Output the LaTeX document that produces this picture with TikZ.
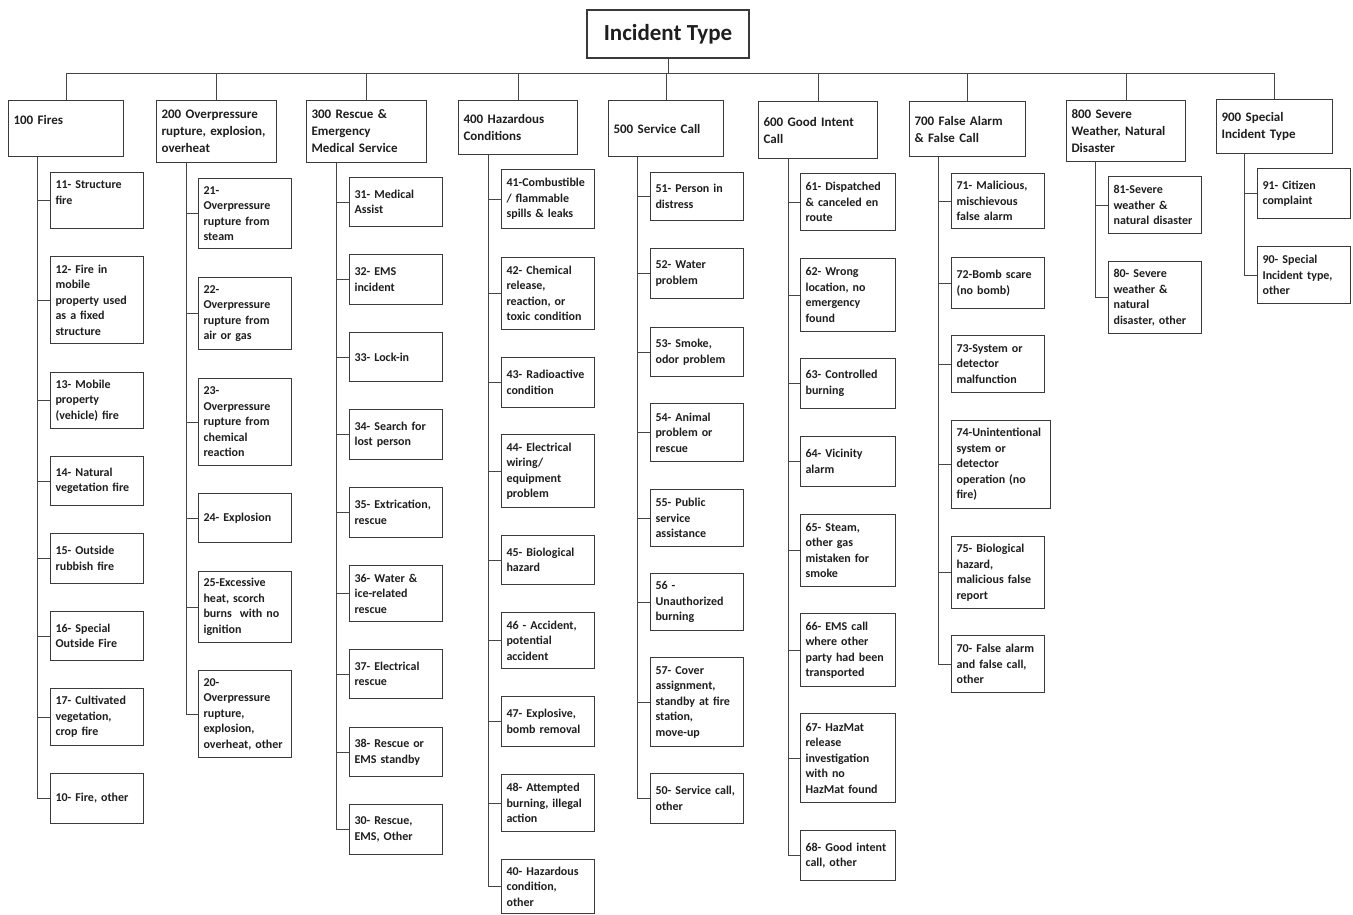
\documentclass[tikz,border=0pt]{standalone}
\usepackage{fontspec}
\setmainfont{Carlito}

\definecolor{boxc}{HTML}{3A3A3A}
\definecolor{linec}{HTML}{454545}
\definecolor{txt}{HTML}{1E1E1E}
\newcommand\kidfont{\fontsize{12}{15.5}\selectfont\bfseries}
\newcommand\catfont{\fontsize{13}{17}\selectfont\bfseries}

\tikzset{
 typebox/.style={draw=boxc, line width=1.2pt, text=txt, minimum width=162, minimum height=48,
  font=\fontsize{23}{28}\selectfont\bfseries},
 catbox/.style={draw=boxc, line width=1.1pt, text=txt, anchor=north west, align=left,
  inner xsep=5pt, inner ysep=2pt, font=\catfont},
 codebox/.style={draw=boxc, line width=1.1pt, text=txt, anchor=north west, align=left,
  inner xsep=5pt, inner ysep=2pt, text width=83pt, font=\kidfont},
 link/.style={draw=linec, line width=1pt}
}

\begin{document}
\begin{tikzpicture}[x=1pt,y=-1pt]
 \useasboundingbox (0,0) rectangle (1353,915);
 % top
 \node[typebox] (root) at (668,34) {Incident Type};
 \coordinate (bus) at (0,74);
 % categories
 \node[catbox, text width=105, minimum height=56] (g100) at (8,100) {100 Fires\\ \mbox{}};
 \node[catbox, text width=110, minimum height=62] (g200) at (156,100) {200 Overpressure\\rupture, explosion,\\overheat};
 \node[catbox, text width=110, minimum height=62] (g300) at (306,100) {300 Rescue \&\\Emergency\\Medical Service};
 \node[catbox, text width=109, minimum height=54] (g400) at (458,100) {400 Hazardous\\Conditions};
 \node[catbox, text width=105, minimum height=56] (g500) at (608,100) {500 Service Call};
 \node[catbox, text width=109, minimum height=57] (g600) at (758,101) {600 Good Intent\\Call};
 \node[catbox, text width=106, minimum height=55] (g700) at (909,101) {700 False Alarm\\\& False Call};
 \node[catbox, text width=109, minimum height=61] (g800) at (1066,100) {800 Severe\\Weather, Natural\\Disaster};
 \node[catbox, text width=106, minimum height=54] (g900) at (1216,99) {900 Special\\Incident Type};
 % 100
 \node[codebox, minimum height=56] (k11) at (50,172) {11- Structure\\fire\\ \mbox{}};
 \node[codebox, minimum height=87] (k12) at (50,256) {12- Fire in\\mobile\\property used\\as a fixed\\structure};
 \node[codebox, minimum height=56] (k13) at (50,372) {13- Mobile\\property\\(vehicle) fire};
 \node[codebox, minimum height=49] (k14) at (50,456) {14- Natural\\vegetation fire};
 \node[codebox, minimum height=50] (k15) at (50,533) {15- Outside\\rubbish fire};
 \node[codebox, minimum height=49] (k16) at (50,611) {16- Special\\Outside Fire};
 \node[codebox, minimum height=57] (k17) at (50,688) {17- Cultivated\\vegetation,\\crop fire};
 \node[codebox, minimum height=50] (k10) at (50,773) {10- Fire, other};
 % 200
 \node[codebox, minimum height=70] (k21) at (198,178) {21-\\Overpressure\\rupture from\\steam};
 \node[codebox, minimum height=72] (k22) at (198,277) {22-\\Overpressure\\rupture from\\air or gas};
 \node[codebox, minimum height=87] (k23) at (198,378) {23-\\Overpressure\\rupture from\\chemical\\reaction};
 \node[codebox, minimum height=49] (k24) at (198,493) {24- Explosion};
 \node[codebox, minimum height=71] (k25) at (198,571) {25-Excessive\\heat, scorch\\burns \ with no\\ignition};
 \node[codebox, minimum height=87] (k20) at (198,670) {20-\\Overpressure\\rupture,\\explosion,\\overheat, other};
 % 300
 \node[codebox, minimum height=49] (k31) at (349,177) {31- Medical\\Assist};
 \node[codebox, minimum height=50] (k32) at (349,254) {32- EMS\\incident};
 \node[codebox, minimum height=49] (k33) at (349,332) {33- Lock-in};
 \node[codebox, minimum height=50] (k34) at (349,409) {34- Search for\\lost person};
 \node[codebox, minimum height=50] (k35) at (349,487) {35- Extrication,\\rescue};
 \node[codebox, minimum height=56] (k36) at (349,565) {36- Water \&\\ice-related\\rescue};
 \node[codebox, minimum height=49] (k37) at (349,649) {37- Electrical\\rescue};
 \node[codebox, minimum height=49] (k38) at (349,727) {38- Rescue or\\EMS standby};
 \node[codebox, minimum height=50] (k30) at (349,804) {30- Rescue,\\EMS, Other};
 % 400
 \node[codebox, minimum height=59] (k41) at (501,169) {41-Combustible\\/ flammable\\spills \& leaks};
 \node[codebox, minimum height=72] (k42) at (501,257) {42- Chemical\\release,\\reaction, or\\toxic condition};
 \node[codebox, minimum height=50] (k43) at (501,357) {43- Radioactive\\condition};
 \node[codebox, minimum height=73] (k44) at (501,434) {44- Electrical\\wiring/\\equipment\\problem};
 \node[codebox, minimum height=49] (k45) at (501,535) {45- Biological\\hazard};
 \node[codebox, minimum height=56] (k46) at (501,612) {46 - Accident,\\potential\\accident};
 \node[codebox, minimum height=50] (k47) at (501,696) {47- Explosive,\\bomb removal};
 \node[codebox, minimum height=57] (k48) at (501,774) {48- Attempted\\burning, illegal\\action};
 \node[codebox, minimum height=54] (k40) at (501,859) {40- Hazardous\\condition,\\other};
 % 500
 \node[codebox, minimum height=48] (k51) at (650,172) {51- Person in\\distress};
 \node[codebox, minimum height=50] (k52) at (650,248) {52- Water\\problem};
 \node[codebox, minimum height=49] (k53) at (650,327) {53- Smoke,\\odor problem};
 \node[codebox, minimum height=58] (k54) at (650,403) {54- Animal\\problem or\\rescue};
 \node[codebox, minimum height=57] (k55) at (650,489) {55- Public\\service\\assistance};
 \node[codebox, minimum height=57] (k56) at (650,573) {56 -\\Unauthorized\\burning};
 \node[codebox, minimum height=89] (k57) at (650,657) {57- Cover\\assignment,\\standby at fire\\station,\\move-up};
 \node[codebox, minimum height=50] (k50) at (650,773) {50- Service call,\\other};
 % 600
 \node[codebox, text width=85, minimum height=57] (k61) at (800,173) {61- Dispatched\\\& canceled en\\route};
 \node[codebox, text width=85, minimum height=73] (k62) at (800,258) {62- Wrong\\location, no\\emergency\\found};
 \node[codebox, text width=85, minimum height=50] (k63) at (800,358) {63- Controlled\\burning};
 \node[codebox, text width=85, minimum height=50] (k64) at (800,436) {64- Vicinity\\alarm};
 \node[codebox, text width=85, minimum height=72] (k65) at (800,514) {65- Steam,\\other gas\\mistaken for\\smoke};
 \node[codebox, text width=85, minimum height=73] (k66) at (800,613) {66- EMS call\\where other\\party had been\\transported};
 \node[codebox, text width=85, minimum height=89] (k67) at (800,713) {67- HazMat\\release\\investigation\\with no\\HazMat found};
 \node[codebox, text width=85, minimum height=50] (k68) at (800,830) {68- Good intent\\call, other};
 % 700
 \node[codebox, minimum height=55] (k71) at (951,173) {71- Malicious,\\mischievous\\false alarm};
 \node[codebox, minimum height=51] (k72) at (951,257) {72-Bomb scare\\(no bomb)};
 \node[codebox, minimum height=57] (k73) at (951,335) {73-System or\\detector\\malfunction};
 \node[codebox, text width=89, minimum height=88] (k74) at (951,420) {74-Unintentional\\system or\\detector\\operation (no\\fire)};
 \node[codebox, minimum height=72] (k75) at (951,536) {75- Biological\\hazard,\\malicious false\\report};
 \node[codebox, minimum height=57] (k70) at (951,635) {70- False alarm\\and false call,\\other};
 % 800
 \node[codebox, minimum height=57] (k81) at (1108,176) {81-Severe\\weather \&\\natural disaster};
 \node[codebox, minimum height=72] (k80) at (1108,261) {80- Severe\\weather \&\\natural\\disaster, other};
 % 900
 \node[codebox, minimum height=50] (k91) at (1257,168) {91- Citizen\\complaint};
 \node[codebox, minimum height=57] (k90) at (1257,246) {90- Special\\Incident type,\\other};

 % tree lines
 \draw[link] (root.south) -- (root.south |- bus);
 \draw[link] (g100.north |- bus) -- (g900.north |- bus);
 \draw[link] (g100.north) -- (g100.north |- bus) (g200.north) -- (g200.north |- bus)
  (g300.north) -- (g300.north |- bus) (g400.north) -- (g400.north |- bus)
  (g500.north) -- (g500.north |- bus) (g600.north) -- (g600.north |- bus)
  (g700.north) -- (g700.north |- bus) (g800.north) -- (g800.north |- bus)
  (g900.north) -- (g900.north |- bus);
 \coordinate (s1) at (37,0);
 \coordinate (s2) at (186,0);
 \coordinate (s3) at (336,0);
 \coordinate (s4) at (488,0);
 \coordinate (s5) at (637,0);
 \coordinate (s6) at (788,0);
 \coordinate (s7) at (938,0);
 \coordinate (s8) at (1095,0);
 \coordinate (s9) at (1244,0);
 \draw[link] (g100.south -| s1) |- (k10.west)
  (s1 |- k11.west) -- (k11.west) (s1 |- k12.west) -- (k12.west)
  (s1 |- k13.west) -- (k13.west) (s1 |- k14.west) -- (k14.west)
  (s1 |- k15.west) -- (k15.west) (s1 |- k16.west) -- (k16.west)
  (s1 |- k17.west) -- (k17.west);
 \draw[link] (g200.south -| s2) |- (k20.west)
  (s2 |- k21.west) -- (k21.west) (s2 |- k22.west) -- (k22.west)
  (s2 |- k23.west) -- (k23.west) (s2 |- k24.west) -- (k24.west)
  (s2 |- k25.west) -- (k25.west);
 \draw[link] (g300.south -| s3) |- (k30.west)
  (s3 |- k31.west) -- (k31.west) (s3 |- k32.west) -- (k32.west)
  (s3 |- k33.west) -- (k33.west) (s3 |- k34.west) -- (k34.west)
  (s3 |- k35.west) -- (k35.west) (s3 |- k36.west) -- (k36.west)
  (s3 |- k37.west) -- (k37.west) (s3 |- k38.west) -- (k38.west);
 \draw[link] (g400.south -| s4) |- (k40.west)
  (s4 |- k41.west) -- (k41.west) (s4 |- k42.west) -- (k42.west)
  (s4 |- k43.west) -- (k43.west) (s4 |- k44.west) -- (k44.west)
  (s4 |- k45.west) -- (k45.west) (s4 |- k46.west) -- (k46.west)
  (s4 |- k47.west) -- (k47.west) (s4 |- k48.west) -- (k48.west);
 \draw[link] (g500.south -| s5) |- (k50.west)
  (s5 |- k51.west) -- (k51.west) (s5 |- k52.west) -- (k52.west)
  (s5 |- k53.west) -- (k53.west) (s5 |- k54.west) -- (k54.west)
  (s5 |- k55.west) -- (k55.west) (s5 |- k56.west) -- (k56.west)
  (s5 |- k57.west) -- (k57.west);
 \draw[link] (g600.south -| s6) |- (k68.west)
  (s6 |- k61.west) -- (k61.west) (s6 |- k62.west) -- (k62.west)
  (s6 |- k63.west) -- (k63.west) (s6 |- k64.west) -- (k64.west)
  (s6 |- k65.west) -- (k65.west) (s6 |- k66.west) -- (k66.west)
  (s6 |- k67.west) -- (k67.west);
 \draw[link] (g700.south -| s7) |- (k70.west)
  (s7 |- k71.west) -- (k71.west) (s7 |- k72.west) -- (k72.west)
  (s7 |- k73.west) -- (k73.west) (s7 |- k74.west) -- (k74.west)
  (s7 |- k75.west) -- (k75.west);
 \draw[link] (g800.south -| s8) |- (k80.west)
  (s8 |- k81.west) -- (k81.west);
 \draw[link] (g900.south -| s9) |- (k90.west)
  (s9 |- k91.west) -- (k91.west);
\end{tikzpicture}
\end{document}
